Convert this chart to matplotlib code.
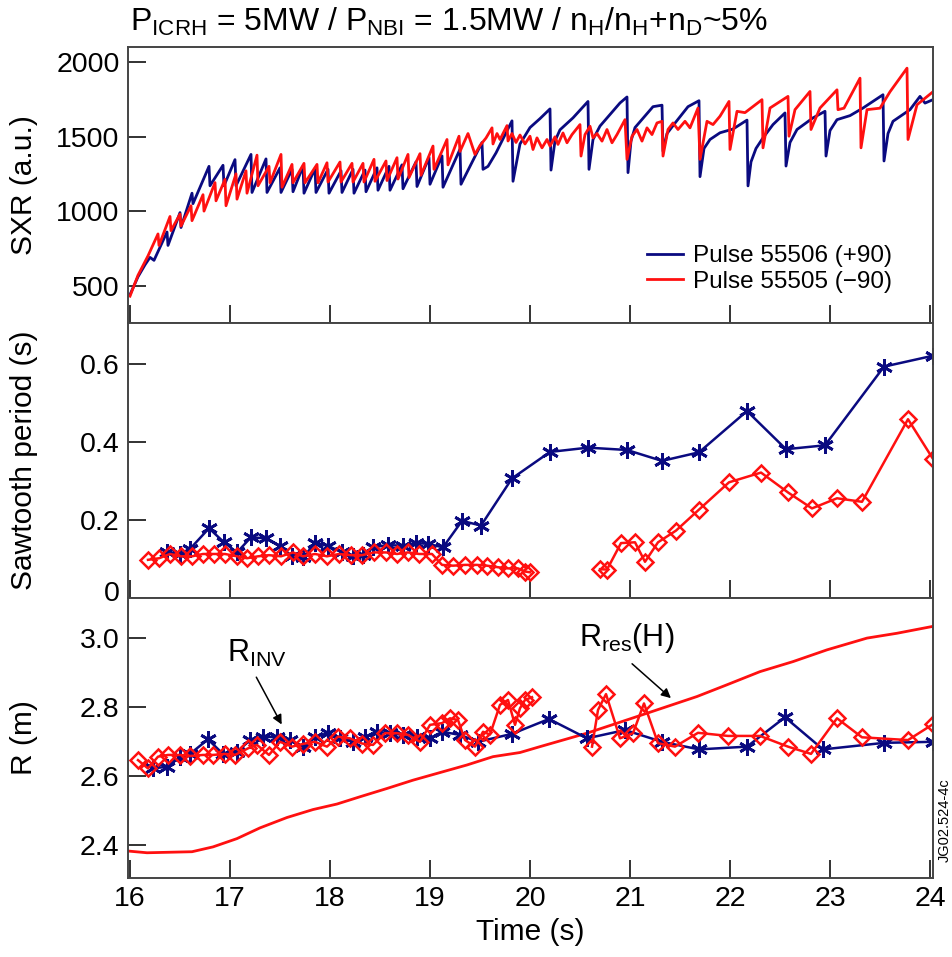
import numpy as np
import matplotlib
matplotlib.use("Agg")
import matplotlib.pyplot as plt
import matplotlib.transforms as mtransforms

plt.rcParams['font.family'] = ['Liberation Sans', 'DejaVu Sans']
plt.rcParams['mathtext.fontset'] = 'custom'
plt.rcParams['mathtext.rm'] = 'Liberation Sans'
plt.rcParams['mathtext.it'] = 'Liberation Sans'
plt.rcParams['mathtext.default'] = 'rm'

BLUE = '#0a0a80'
RED = '#ff1010'

# ---------------- SXR (top panel) ----------------
blue_sxr_t = [16.00, 16.08, 16.15, 16.20, 16.24, 16.37, 16.38, 16.50, 16.51, 16.62, 16.63,
              16.79, 16.80, 16.93, 16.94, 17.05, 17.06, 17.21, 17.22, 17.36, 17.37, 17.50, 17.51,
              17.62, 17.63, 17.73, 17.74, 17.85, 17.86, 17.98, 17.99, 18.11, 18.12, 18.23, 18.24,
              18.35, 18.36, 18.47, 18.48, 18.59, 18.60, 18.72, 18.73, 18.86, 18.87, 18.99, 19.00,
              19.12, 19.13, 19.30, 19.31, 19.52, 19.53, 19.58, 19.66, 19.82, 19.83, 19.90, 20.00,
              20.10, 20.20, 20.21, 20.25, 20.30, 20.43, 20.58, 20.59, 20.63, 20.70, 20.90, 20.97,
              20.98, 21.01, 21.05, 21.23, 21.32, 21.33, 21.37, 21.45, 21.58, 21.69, 21.70, 21.74,
              21.80, 21.90, 22.03, 22.17, 22.18, 22.21, 22.26, 22.33, 22.43, 22.55, 22.56, 22.60,
              22.67, 22.83, 22.95, 22.96, 23.00, 23.07, 23.20, 23.33, 23.53, 23.54, 23.58, 23.63,
              23.80, 23.90, 23.95, 24.03]
blue_sxr_v = [440, 560, 640, 690, 670, 860, 770, 990, 890, 1120, 1050,
              1300, 1170, 1307, 1170, 1345, 1170, 1380, 1125, 1350, 1125, 1290, 1125,
              1280, 1130, 1300, 1120, 1285, 1125, 1280, 1120, 1270, 1125, 1280, 1120,
              1275, 1130, 1290, 1140, 1300, 1140, 1310, 1150, 1330, 1165, 1360, 1180,
              1370, 1160, 1415, 1180, 1460, 1280, 1300, 1390, 1605, 1200, 1450, 1560,
              1620, 1685, 1275, 1470, 1545, 1625, 1735, 1280, 1480, 1570, 1725, 1765,
              1258, 1470, 1560, 1700, 1710, 1402, 1520, 1590, 1700, 1740, 1231, 1420,
              1480, 1525, 1550, 1610, 1169, 1330, 1420, 1491, 1580, 1658, 1302, 1460,
              1547, 1625, 1669, 1369, 1540, 1613, 1640, 1691, 1780, 1336, 1520, 1602,
              1680, 1769, 1724, 1747]

red_sxr_t = [16.00, 16.08, 16.18, 16.28, 16.29, 16.40, 16.41, 16.50, 16.51, 16.61, 16.62,
             16.73, 16.74, 16.85, 16.86, 16.95, 16.96, 17.06, 17.07, 17.16, 17.17, 17.27, 17.28,
             17.39, 17.40, 17.51, 17.52, 17.62, 17.63, 17.74, 17.75, 17.87, 17.88, 17.97, 17.98,
             18.10, 18.11, 18.22, 18.23, 18.33, 18.34, 18.44, 18.45, 18.56, 18.57, 18.67, 18.68,
             18.78, 18.79, 18.90, 18.91, 19.03, 19.04, 19.17, 19.18, 19.29, 19.30, 19.38, 19.45,
             19.50, 19.56, 19.62, 19.63, 19.67, 19.70, 19.77, 19.78, 19.82, 19.86, 19.90, 19.95,
             20.00, 20.03, 20.07, 20.12, 20.17, 20.20, 20.25, 20.28, 20.33, 20.37, 20.42, 20.50,
             20.51, 20.55, 20.60, 20.63, 20.67, 20.72, 20.77, 20.82, 20.87, 20.95, 20.97, 21.02,
             21.07, 21.12, 21.17, 21.22, 21.27, 21.32, 21.33, 21.38, 21.43, 21.48, 21.55, 21.60,
             21.68, 21.70, 21.77, 21.83, 21.90, 21.99, 22.00,
             22.07, 22.15, 22.32, 22.33, 22.40, 22.58, 22.59, 22.65, 22.80, 22.81, 22.90, 23.07,
             23.08, 23.14, 23.30, 23.31, 23.37, 23.50, 23.60, 23.77, 23.78, 23.87, 24.03]
red_sxr_v = [430, 570, 700, 847, 770, 964, 869, 980, 900, 1036, 936,
             1110, 1000, 1191, 1069, 1213, 1036, 1250, 1080, 1270, 1120, 1375, 1170,
             1300, 1190, 1380, 1160, 1313, 1190, 1320, 1190, 1313, 1190, 1324, 1195,
             1329, 1195, 1320, 1195, 1320, 1195, 1347, 1200, 1336, 1205, 1358, 1215,
             1380, 1225, 1385, 1240, 1436, 1280, 1480, 1310, 1502, 1400, 1520, 1380,
             1440, 1490, 1558, 1450, 1520, 1480, 1573, 1470, 1520, 1460, 1510, 1450,
             1502, 1413, 1491, 1424, 1480, 1436, 1498, 1447, 1524, 1458, 1513, 1580,
             1369, 1513, 1569, 1491, 1520, 1469, 1547, 1458, 1513, 1613, 1347, 1502,
             1547, 1469, 1558, 1513, 1591, 1602, 1369, 1547, 1591, 1547, 1602, 1558,
             1691, 1347, 1602, 1580, 1636, 1735, 1413,
             1669, 1660, 1747, 1424, 1691, 1769, 1502, 1680, 1802, 1547, 1691, 1813,
             1680, 1690, 1891, 1424, 1680, 1690, 1800, 1958, 1480, 1713, 1800]

# ---------------- Sawtooth period (middle panel) ----------------
blue_period_t = [16.37, 16.50, 16.60, 16.79, 16.94, 17.07, 17.21, 17.36, 17.50, 17.62, 17.73,
                 17.85, 17.98, 18.12, 18.23, 18.33, 18.43, 18.58, 18.73, 18.86, 18.98, 19.13,
                 19.32, 19.51, 19.82, 20.20, 20.58, 20.97, 21.32, 21.69, 22.17, 22.56, 22.95,
                 23.54, 24.03]
blue_period_v = [0.117, 0.113, 0.126, 0.179, 0.143, 0.117, 0.156, 0.153, 0.134, 0.107, 0.104,
                 0.141, 0.134, 0.117, 0.109, 0.110, 0.130, 0.136, 0.134, 0.141, 0.139, 0.130,
                 0.198, 0.186, 0.307, 0.375, 0.386, 0.380, 0.352, 0.374, 0.480, 0.382, 0.392,
                 0.594, 0.622]

red_period_t = [16.18, 16.29, 16.40, 16.51, 16.62, 16.73, 16.84, 16.95, 17.07, 17.17, 17.28,
                17.39, 17.51, 17.63, 17.73, 17.85, 17.97, 18.09, 18.21, 18.32, 18.44, 18.56,
                18.67, 18.78, 18.89, 19.02, 19.12, 19.23, 19.35, 19.47, 19.57, 19.68, 19.78,
                19.88, 19.95, 20.00,
                20.70, 20.77, 20.91, 21.05, 21.15, 21.28, 21.46, 21.69, 21.99, 22.31, 22.58,
                22.82, 23.07, 23.32, 23.78, 24.03]
red_period_v = [0.098, 0.102, 0.113, 0.107, 0.107, 0.113, 0.113, 0.113, 0.107, 0.102, 0.107,
                0.110, 0.107, 0.117, 0.107, 0.113, 0.107, 0.113, 0.110, 0.110, 0.117, 0.117,
                0.113, 0.117, 0.113, 0.113, 0.085, 0.083, 0.085, 0.085, 0.083, 0.079, 0.076,
                0.076, 0.068, 0.066,
                0.074, 0.073, 0.141, 0.143, 0.093, 0.143, 0.173, 0.227, 0.297, 0.322, 0.271,
                0.230, 0.256, 0.247, 0.459, 0.357]
red_period_gap_after = 20.00   # no red line across the gap

# ---------------- Radii (bottom panel) ----------------
rres_t = [15.98, 16.17, 16.62, 16.83, 17.07, 17.30, 17.57, 17.83, 18.07, 18.30, 18.57, 18.83,
          19.10, 19.37, 19.63, 19.90, 20.10, 20.57, 21.07, 21.37, 21.67, 21.97, 22.30, 22.63,
          22.97, 23.37, 23.67, 24.03]
rres_v = [2.383, 2.378, 2.381, 2.395, 2.419, 2.450, 2.480, 2.503, 2.519, 2.540, 2.564, 2.588,
          2.610, 2.632, 2.656, 2.668, 2.685, 2.724, 2.772, 2.801, 2.830, 2.864, 2.902, 2.931,
          2.965, 2.999, 3.013, 3.033]

blue_rinv_t = [16.23, 16.37, 16.50, 16.60, 16.78, 16.93, 17.07, 17.20, 17.33, 17.47, 17.60,
               17.73, 17.85, 17.98, 18.10, 18.23, 18.35, 18.47, 18.60, 18.73, 18.87, 19.00,
               19.12, 19.30, 19.48, 19.82, 20.19, 20.57, 20.95, 21.32, 21.69, 22.17, 22.55,
               22.93, 23.54, 24.03]
blue_rinv_v = [2.622, 2.627, 2.656, 2.664, 2.706, 2.664, 2.670, 2.704, 2.714, 2.712, 2.704,
               2.685, 2.714, 2.724, 2.709, 2.699, 2.714, 2.728, 2.724, 2.719, 2.714, 2.709,
               2.728, 2.719, 2.699, 2.722, 2.765, 2.709, 2.733, 2.699, 2.677, 2.685, 2.770,
               2.677, 2.696, 2.699]

red_rinv_t = [16.08, 16.18, 16.28, 16.38, 16.50, 16.60, 16.73, 16.83, 16.95, 17.05, 17.18,
              17.27, 17.39, 17.50, 17.62, 17.73, 17.85, 17.97, 18.08, 18.20, 18.32, 18.43,
              18.55, 18.67, 18.78, 18.90, 19.00, 19.12, 19.20, 19.28, 19.35, 19.45, 19.53,
              19.60, 19.70, 19.78, 19.85, 19.90, 19.95, 20.02,
              20.62, 20.68, 20.76, 20.90, 21.03, 21.14, 21.28, 21.45, 21.68, 21.98, 22.30,
              22.58, 22.81, 23.07, 23.32, 23.78, 24.03]
red_rinv_v = [2.646, 2.622, 2.656, 2.661, 2.661, 2.658, 2.661, 2.661, 2.664, 2.661, 2.680,
              2.690, 2.661, 2.699, 2.685, 2.693, 2.699, 2.685, 2.714, 2.709, 2.694, 2.690,
              2.724, 2.724, 2.719, 2.699, 2.748, 2.753, 2.767, 2.762, 2.704, 2.685, 2.728,
              2.720, 2.806, 2.820, 2.748, 2.796, 2.820, 2.828,
              2.685, 2.791, 2.837, 2.709, 2.724, 2.810, 2.695, 2.685, 2.725, 2.716, 2.716,
              2.685, 2.664, 2.767, 2.712, 2.704, 2.750]
red_rinv_gap_after = 20.02

x_ticks = [16, 17, 18, 19, 20, 21, 22, 23, 24]
sxr_ticks = [500, 1000, 1500, 2000]
period_ticks = [0, 0.2, 0.4, 0.6]
period_ticklabels = ['0', '0.2', '0.4', '0.6']
r_ticks = [2.4, 2.6, 2.8, 3.0]
r_ticklabels = ['2.4', '2.6', '2.8', '3.0']


def with_gap(t, v, gap_after):
    t = list(t); v = list(v)
    i = t.index(gap_after) + 1
    return t[:i] + [np.nan] + t[i:], v[:i] + [np.nan] + v[i:]


fig = plt.figure(figsize=(9.52, 9.57), dpi=100)
W, H = 952, 957
L, R = 128 / W, 933 / W


def axes_px(top, bottom):
    return fig.add_axes([L, 1 - bottom / H, R - L, (bottom - top) / H])


ax1 = axes_px(47, 323)
ax2 = axes_px(323, 598)
ax3 = axes_px(598, 878)

FS = 20.5
for ax in (ax1, ax2, ax3):
    ax.set_xlim(15.98, 24.03)
    ax.set_xticks(x_ticks)
    ax.tick_params(direction='in', length=13, width=1.3, labelsize=FS, color='#222222',
                   top=False, right=False, pad=6)
    for s in ax.spines.values():
        s.set_linewidth(1.4)
        s.set_color('#444444')

ax1.tick_params(labelbottom=False)
ax2.tick_params(labelbottom=False)

# Top panel
ax1.plot(blue_sxr_t, blue_sxr_v, color=BLUE, lw=2.0, label='Pulse 55506 (+90)')
ax1.plot(red_sxr_t, red_sxr_v, color=RED, lw=2.0, label='Pulse 55505 (\u221290)')
ax1.set_ylim(250, 2100)
ax1.set_yticks(sxr_ticks)
ax1.set_ylabel('SXR (a.u.)', fontsize=FS + 1)
leg = ax1.legend(loc='lower left', bbox_to_anchor=((647 - 128) / 805, (323 - 293) / 276),
                 frameon=False, borderpad=0, borderaxespad=0,
                 fontsize=17.5, handlelength=1.48, handletextpad=0.42, labelspacing=0.15)

# Middle panel
ax2.plot(blue_period_t, blue_period_v, color=BLUE, lw=1.8, marker=(6, 2, 0),
         markersize=12, markeredgewidth=2.0)
rpt, rpv = with_gap(red_period_t, red_period_v, red_period_gap_after)
ax2.plot(rpt, rpv, color=RED, lw=1.8, marker='D', markersize=8.5, markeredgewidth=1.8,
         markerfacecolor='none')
ax2.set_ylim(0, 0.706)
ax2.set_yticks(period_ticks)
ax2.set_yticklabels(period_ticklabels)
ax2.set_ylabel('Sawtooth period (s)', fontsize=FS + 1)
# the "0" label sits slightly above the panel bottom in the reference
zero_lbl = ax2.get_yticklabels()[0]
zero_lbl.set_transform(zero_lbl.get_transform() +
                       mtransforms.ScaledTranslation(0, 7 / 100, fig.dpi_scale_trans))

# Bottom panel
ax3.plot(rres_t, rres_v, color=RED, lw=2.0)
ax3.plot(blue_rinv_t, blue_rinv_v, color=BLUE, lw=1.8, marker=(6, 2, 0),
         markersize=12, markeredgewidth=2.0)
rit, riv = with_gap(red_rinv_t, red_rinv_v, red_rinv_gap_after)
ax3.plot(rit, riv, color=RED, lw=1.8, marker='D', markersize=8.5, markeredgewidth=1.8,
         markerfacecolor='none')
ax3.set_ylim(2.305, 3.115)
ax3.set_yticks(r_ticks)
ax3.set_yticklabels(r_ticklabels)
ax3.set_ylabel('R (m)', fontsize=FS + 1)
ax3.set_xlabel('Time (s)', fontsize=FS + 1, labelpad=4)

ax3.annotate('', xy=(17.53, 2.742), xytext=(17.25, 2.893),
             arrowprops=dict(arrowstyle='-|>', color='black', lw=1.1, mutation_scale=14))
ax3.text(17.27, 2.955, r'R$_{\mathrm{INV}}$', fontsize=FS + 1.5, ha='center', va='center')
ax3.annotate('', xy=(21.43, 2.82), xytext=(21.0, 2.93),
             arrowprops=dict(arrowstyle='-|>', color='black', lw=1.1, mutation_scale=14))
ax3.text(20.97, 3.0, r'R$_{\mathrm{res}}$(H)', fontsize=FS + 1.5, ha='center', va='center')

# align y labels
for ax in (ax1, ax2, ax3):
    ax.yaxis.set_label_coords(-0.112, 0.5)

fig.text(130 / W, 1 - 22 / H,
         r'P$_{\mathrm{ICRH}}$ = 5MW / P$_{\mathrm{NBI}}$ = 1.5MW / n$_{\mathrm{H}}$/n$_{\mathrm{H}}$+n$_{\mathrm{D}}$~5%',
         fontsize=23, ha='left', va='center')
fig.text(945 / W, 1 - 820 / H, 'JG02.524-4c', rotation=90, fontsize=10.5,
         ha='center', va='center')

fig.savefig('out.png', dpi=100)
